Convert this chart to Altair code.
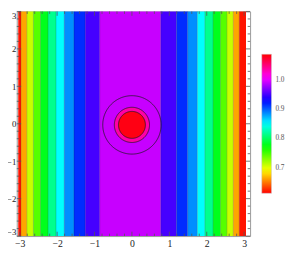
import altair as alt
import numpy as np
import pandas as pd

# ---- data ----
band_edges = [-3.04, -2.965, -2.81, -2.635, -2.445, -2.245, -2.03, -1.81, -1.55, -1.25, -0.86,
              0.77, 1.19, 1.49, 1.75, 1.95, 2.17, 2.37, 2.54, 2.71, 2.87, 3.05]
band_levels = [0.62, 0.665, 0.71, 0.745, 0.78, 0.815, 0.85, 0.885, 0.915, 0.95,
               0.99,
               0.95, 0.915, 0.885, 0.85, 0.815, 0.78, 0.745, 0.71, 0.665, 0.62]
disc_radii = [0.47, 0.36]
disc_levels = [1.035, 1.08]
contour_radii = [0.78, 0.47, 0.36]
center_x, center_y = 0.0, -0.03
value_min, value_max = 0.614, 1.086
legend_values = [0.7, 0.8, 0.9, 1.0]
x_ticks = [-3, -2, -1, 0, 1, 2, 3]
y_ticks = [-3, -2, -1, 0, 1, 2, 3]
minor_ticks = [round(v, 1) for v in np.arange(-3.0, 3.01, 0.2) if abs(v - round(v)) > 1e-6]

W, H = 240, 231
XDOM = [-3.08, 3.16]
YDOM = [-3.0, 3.0]

hue_colors = ["#ff0000", "#ffff00", "#00ff00", "#00ffff", "#0000ff", "#ff00ff", "#ff0000"]
dom = list(np.linspace(value_min, value_max, 7))
cscale = alt.Scale(domain=dom, range=hue_colors, nice=False, zero=False, interpolate="rgb")
xs = alt.Scale(domain=XDOM, nice=False, zero=False)
ys = alt.Scale(domain=YDOM, nice=False, zero=False)

legend = alt.Legend(orient="none", legendX=252, legendY=44, gradientLength=143,
                    gradientThickness=10, values=legend_values, format=".1f", title=None,
                    labelFont="Liberation Serif", labelFontSize=7.5, labelColor="#555",
                    labelOffset=4, padding=0, direction="vertical",
                    gradientStrokeColor="#cccccc", gradientStrokeWidth=0.5)

xaxis = alt.Axis(values=x_ticks, format="d", labelExpr="replace(datum.label, '-', '\u2212')",
                 labelPadding=3, labelOverlap=False, labelFlush=False, labelBound=False,
                 title=None)
yaxis = alt.Axis(values=y_ticks, format="d", labelPadding=1, labelFontSize=9,
                 labelOverlap=False, labelFlush=True, labelBound=False, title=None)

bands = pd.DataFrame({"x0": band_edges[:-1], "x1": band_edges[1:], "level": band_levels,
                      "y0": YDOM[0], "y1": YDOM[1]})
edges = pd.DataFrame({"x": band_edges[1:-1], "y0": YDOM[0], "y1": YDOM[1]})

disc_rows = []
t = np.linspace(0, np.pi, 181)
for i, (r, lv) in enumerate(zip(disc_radii, disc_levels)):
    for tt in t:
        disc_rows.append({"id": i, "x": center_x + r * np.cos(tt),
                          "yt": center_y + r * np.sin(tt), "yb": center_y - r * np.sin(tt),
                          "level": lv})
discs = pd.DataFrame(disc_rows)

ring_rows = []
t2 = np.linspace(0, 2 * np.pi, 241)
for i, r in enumerate(contour_radii):
    for k, tt in enumerate(t2):
        ring_rows.append({"id": i, "k": k, "x": center_x + r * np.cos(tt),
                          "y": center_y + r * np.sin(tt)})
rings = pd.DataFrame(ring_rows)

band_layer = alt.Chart(bands).mark_rect(stroke=None).encode(
    x=alt.X("x0:Q", scale=xs, axis=xaxis),
    x2="x1:Q",
    y=alt.Y("y0:Q", scale=ys, axis=yaxis),
    y2="y1:Q",
    color=alt.Color("level:Q", scale=cscale, legend=legend),
)

edge_layer = alt.Chart(edges).mark_rule(color="#000000", opacity=0.3, strokeWidth=0.6).encode(
    x=alt.X("x:Q", scale=xs, axis=xaxis), y=alt.Y("y0:Q", scale=ys, axis=yaxis), y2="y1:Q")

disc_layer = alt.Chart(discs).mark_area(stroke=None).encode(
    x=alt.X("x:Q", scale=xs, axis=xaxis), y=alt.Y("yt:Q", scale=ys, axis=yaxis), y2="yb:Q",
    detail="id:N",
    color=alt.Color("level:Q", scale=cscale, legend=legend))

ring_layer = alt.Chart(rings).mark_line(color="#1a1a1a", strokeWidth=0.9, opacity=0.85).encode(
    x=alt.X("x:Q", scale=xs, axis=xaxis), y=alt.Y("y:Q", scale=ys, axis=yaxis),
    detail="id:N", order="k:Q")

tick_color = "#555555"
maj = pd.DataFrame({"v": x_ticks})
mnr = pd.DataFrame({"v": minor_ticks})

def hticks(df, y_a, y_b):
    return alt.Chart(df).mark_rule(color=tick_color, strokeWidth=0.8).encode(
        x=alt.X("v:Q", scale=xs, axis=xaxis), y=alt.value(y_a), y2=alt.value(y_b))

def vticks(df, x_a, x_b):
    return alt.Chart(df).mark_rule(color=tick_color, strokeWidth=0.8).encode(
        y=alt.Y("v:Q", scale=ys, axis=yaxis), x=alt.value(x_a), x2=alt.value(x_b))

ticks = [
    hticks(maj, H, H - 4.5), hticks(mnr, H, H - 2.5),
    hticks(maj, 0, 4.5), hticks(mnr, 0, 2.5),
    vticks(maj, 0, 4.5), vticks(mnr, 0, 2.5),
    vticks(maj, W, W - 4.5), vticks(mnr, W, W - 2.5),
]

chart = alt.layer(band_layer, edge_layer, disc_layer, ring_layer, *ticks).properties(
    width=W, height=H,
    autosize=alt.AutoSizeParams(type="none"),
    padding={"left": 9, "top": 0, "right": 40, "bottom": 19},
).configure_view(stroke="#999999", strokeWidth=1).configure_axis(
    domain=False, ticks=False, grid=False, labelFont="Liberation Serif",
    labelFontSize=10, labelColor="#222222", labelOverlap=False
)

chart.save("out.html", embed_options={"renderer": "svg", "actions": False})
